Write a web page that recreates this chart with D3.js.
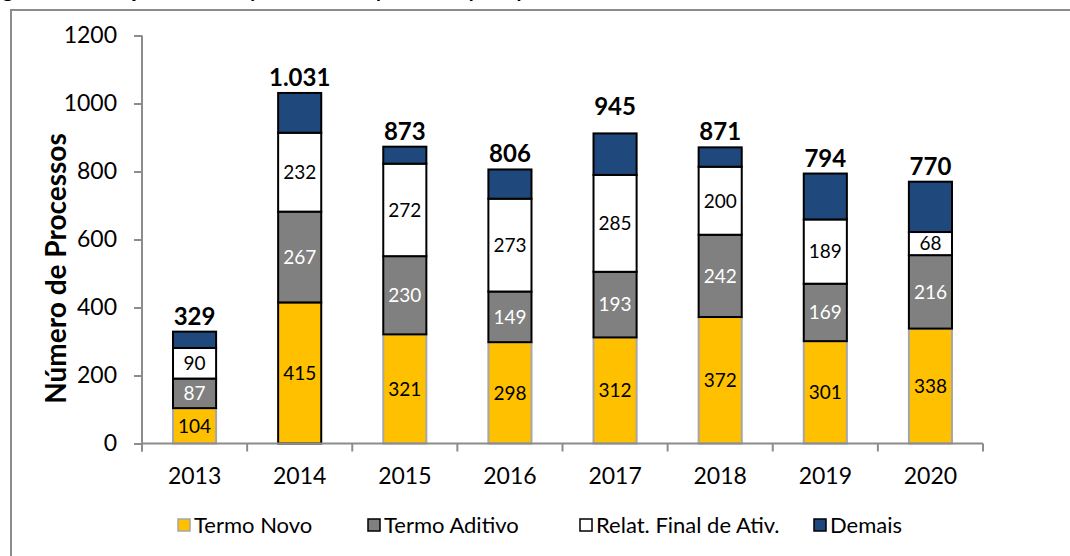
<!DOCTYPE html>
<html>
<head>
<meta charset="utf-8">
<script src="https://cdn.jsdelivr.net/npm/d3@7"></script>
<style>
  body { margin: 0; background: #fff; }
  text { font-family: Lato, "Open Sans", sans-serif; }
</style>
</head>
<body>
<div id="chart"></div>
<script>
// data
var years = ["2013", "2014", "2015", "2016", "2017", "2018", "2019", "2020"];
var termoNovo = [104, 415, 321, 298, 312, 372, 301, 338];
var termoAditivo = [87, 267, 230, 149, 193, 242, 169, 216];
var relatFinal = [90, 232, 272, 273, 285, 200, 189, 68];
var demais = [48, 117, 50, 86, 122, 57, 135, 148];
var totals = [329, 1031, 873, 806, 945, 871, 794, 770];
var totalLabels = ["329", "1.031", "873", "806", "945", "871", "794", "770"];
var yTicks = [0, 200, 400, 600, 800, 1000, 1200];

var seriesNames = ["Termo Novo", "Termo Aditivo", "Relat. Final de Ativ.", "Demais"];
var keys = ["novo", "aditivo", "relat", "demais"];
var colors = { novo: "#FFC000", aditivo: "#808080", relat: "#FFFFFF", demais: "#1F497D" };
var labelColors = { novo: "#000", aditivo: "#fff", relat: "#000" };

var rows = years.map(function(y, i) {
    return { year: y, novo: termoNovo[i], aditivo: termoAditivo[i], relat: relatFinal[i], demais: demais[i], total: totals[i], totalLabel: totalLabels[i] };
});

var svgWidth = 1070;
var svgHeight = 556;

var svg = d3.select("#chart")
    .append("svg")
    .attr("width", svgWidth)
    .attr("height", svgHeight);

// caption, cropped at the top edge as in the source image
svg.append("text")
    .attr("x", -14)
    .attr("y", -3)
    .style("font-size", "20px")
    .style("font-weight", "bold")
    .text("Figura 4 – Evolução anual da quantidade de processos por tipo");

// outer frame (runs off the right and bottom)
svg.append("rect")
    .attr("x", 11)
    .attr("y", 10)
    .attr("width", 1100)
    .attr("height", 600)
    .attr("fill", "none")
    .attr("stroke", "#8c8c8c")
    .attr("stroke-width", 2);

var margin = { left: 142, top: 35.5, right: 87, bottom: 112.5 };
var width = svgWidth - margin.left - margin.right;
var height = svgHeight - margin.top - margin.bottom;

var chartGroup = svg.append("g")
    .attr("transform", `translate(${margin.left}, ${margin.top})`);

var xScale = d3.scaleBand()
    .domain(years)
    .range([0, width])
    .paddingInner(0.59)
    .paddingOuter(0.295);

var yScale = d3.scaleLinear()
    .domain([0, 1200])
    .range([height, 0]);

var stacked = d3.stack().keys(keys)(rows);

var layers = chartGroup.selectAll(".layer")
    .data(stacked)
    .enter()
    .append("g")
    .attr("class", "layer");

layers.selectAll("rect")
    .data(function(d) { return d.map(function(p) { p.key = d.key; return p; }); })
    .enter()
    .append("rect")
    .attr("x", d => xScale(d.data.year))
    .attr("y", d => yScale(d[1]))
    .attr("width", xScale.bandwidth())
    .attr("height", d => yScale(d[0]) - yScale(d[1]))
    .attr("fill", d => colors[d.key])
    .attr("stroke", function(d) {
        if (d.key === "novo") return d.data.year === "2014" ? "#000" : "#a6a6a6";
        return "#000";
    })
    .attr("stroke-width", 2);

// keep the black borders of the upper segments on top
layers.filter(d => d.key !== "novo").raise();

// segment labels
layers.filter(d => d.key !== "demais")
    .selectAll(".seg-label")
    .data(function(d) { return d.map(function(p) { p.key = d.key; return p; }); })
    .enter()
    .append("text")
    .attr("class", "seg-label")
    .attr("x", d => xScale(d.data.year) + xScale.bandwidth() / 2)
    .attr("y", d => yScale((d[0] + d[1]) / 2))
    .attr("dy", "0.36em")
    .attr("text-anchor", "middle")
    .style("font-size", "19px")
    .attr("fill", d => labelColors[d.key])
    .text(d => d[1] - d[0]);

// totals
chartGroup.selectAll(".total")
    .data(rows)
    .enter()
    .append("text")
    .attr("class", "total")
    .attr("x", d => xScale(d.year) + xScale.bandwidth() / 2)
    .attr("y", d => yScale(d.total) - 7)
    .attr("text-anchor", "middle")
    .style("font-size", "24px")
    .style("font-weight", "bold")
    .text(d => d.totalLabel);

// axes
var leftAxis = d3.axisLeft(yScale).tickValues(yTicks).tickSize(8).tickPadding(17).tickFormat(d3.format("d"));
var yAxisG = chartGroup.append("g").call(leftAxis);
yAxisG.select(".domain").attr("d", `M0,0V${height + 8}`);

var xAxisG = chartGroup.append("g")
    .attr("transform", `translate(0, ${height})`)
    .call(d3.axisBottom(xScale).tickSize(0).tickPadding(24));
xAxisG.select(".domain").attr("d", `M0,0H${width}`);

// category boundary ticks
var bounds = d3.range(years.length + 1).map(i => i * xScale.step());
xAxisG.selectAll(".bound")
    .data(bounds)
    .enter()
    .append("line")
    .attr("class", "bound")
    .attr("x1", d => d)
    .attr("x2", d => d)
    .attr("y1", 0)
    .attr("y2", 8);

[yAxisG, xAxisG].forEach(function(g) {
    g.selectAll(".domain, line").attr("stroke", "#8c8c8c").attr("stroke-width", 2);
    g.selectAll("text").style("font-size", "23px").attr("fill", "#000").style("font-family", "Lato, sans-serif");
});

// y axis title
svg.append("text")
    .attr("transform", `translate(66, ${margin.top + height / 2 + 29}) rotate(-90)`)
    .attr("text-anchor", "middle")
    .style("font-size", "28px")
    .style("font-weight", "bold")
    .text("Número de Processos");

// legend
var legendX = [178, 368, 580, 814];
var legend = svg.selectAll(".legend")
    .data(keys)
    .enter()
    .append("g")
    .attr("class", "legend")
    .attr("transform", (d, i) => `translate(${legendX[i]}, 525)`);

legend.append("rect")
    .attr("x", 0)
    .attr("y", -6)
    .attr("width", 12)
    .attr("height", 12)
    .attr("fill", d => colors[d])
    .attr("stroke", d => d === "novo" ? "#a6a6a6" : "#000")
    .attr("stroke-width", 1.5);

legend.append("text")
    .attr("x", 16)
    .attr("dy", "0.36em")
    .style("font-size", "22px")
    .text((d, i) => seriesNames[i]);
</script>
</body>
</html>
